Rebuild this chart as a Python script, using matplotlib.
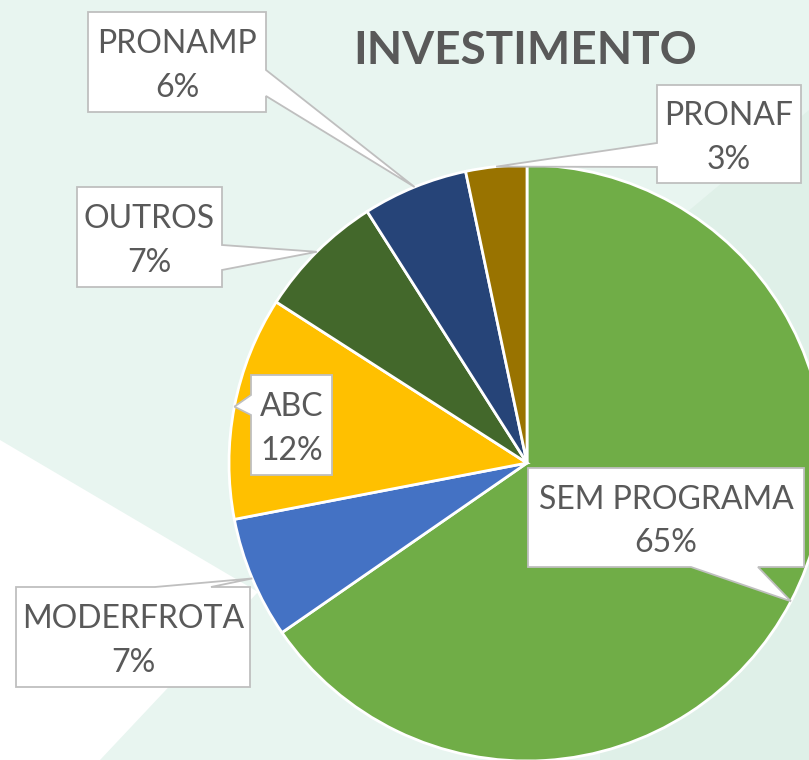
import matplotlib.pyplot as plt
import numpy as np
from matplotlib.patches import Polygon

W, H = 809, 760

categories = ["SEM PROGRAMA", "MODERFROTA", "ABC", "OUTROS", "PRONAMP", "PRONAF"]
shares = [65.3, 6.6, 12.1, 6.9, 5.7, 3.3]
colors = ["#70AD47", "#4472C4", "#FFC000", "#43682B", "#264478", "#997300"]

# label boxes in image pixels (x0, y0, x1, y1), edge with the pointer and its base
boxes = [(528, 468, 804, 567), (16, 587, 250, 687), (251, 375, 332, 475),
         (77, 187, 222, 287), (88, 12, 266, 112), (657, 85, 801, 183)]
sides = ["bottom", "top", "left", "right", "right", "left"]
bases = [(691, 758), (155, 211), (395, 415), (245, 270), (70, 96), (143, 167)]

center = (527, H - 463)
radius = 298
text_color = "#595959"
plt.rcParams['font.family'] = ['Lato', 'DejaVu Sans']


def fy(y):
    return H - y


def callout(box, side, base, tip):
    x0, y1, x1, y0 = box[0], fy(box[1]), box[2], fy(box[3])
    a, b = base
    pts = [(x0, y0)]
    if side == "bottom":
        pts += [(a, y0), tip, (b, y0)]
    pts.append((x1, y0))
    if side == "right":
        a, b = sorted((fy(a), fy(b)))
        pts += [(x1, a), tip, (x1, b)]
    pts.append((x1, y1))
    if side == "top":
        pts += [(b, y1), tip, (a, y1)]
    pts.append((x0, y1))
    if side == "left":
        a, b = sorted((fy(a), fy(b)))
        pts += [(x0, b), tip, (x0, a)]
    return pts


fig = plt.figure(figsize=(W / 100, H / 100), dpi=100)
fig.patch.set_facecolor("#E8F5F0")
ax = fig.add_axes([0, 0, 1, 1])

# background shapes
ax.add_patch(Polygon([(809, fy(110)), (600, fy(285)), (600, 0), (809, 0)],
                     closed=True, facecolor="#DFF0E8", edgecolor="none", zorder=0))
ax.add_patch(Polygon([(0, fy(440)), (258, fy(592)), (100, 0), (0, 0)],
                     closed=True, facecolor="white", edgecolor="none", zorder=0))

wedges, _ = ax.pie(shares, colors=colors, startangle=90, counterclock=False,
                   center=center, radius=radius,
                   wedgeprops=dict(edgecolor="white", linewidth=2))
for w in wedges:
    w.set_zorder(1)

for w, cat, val, box, side, base in zip(wedges, categories, shares, boxes, sides, bases):
    mid = np.deg2rad((w.theta1 + w.theta2) / 2)
    tip = (center[0] + radius * np.cos(mid), center[1] + radius * np.sin(mid))
    ax.add_patch(Polygon(callout(box, side, base, tip), closed=True,
                         facecolor="white", edgecolor="#BFBFBF", linewidth=1.3,
                         joinstyle="miter", zorder=3))
    ax.text((box[0] + box[2]) / 2, fy((box[1] + box[3]) / 2 + 4), f"{cat}\n{val:.0f}%",
            ha="center", va="center", fontsize=23, color=text_color,
            linespacing=1.55, zorder=4)

ax.text(525, fy(51), "INVESTIMENTO", ha="center", va="center", fontsize=33,
        fontweight="bold", color=text_color)

ax.set_xlim(0, W)
ax.set_ylim(0, H)
ax.set_aspect("auto")
ax.axis("off")

fig.savefig("out.png", dpi=100, facecolor=fig.get_facecolor())
